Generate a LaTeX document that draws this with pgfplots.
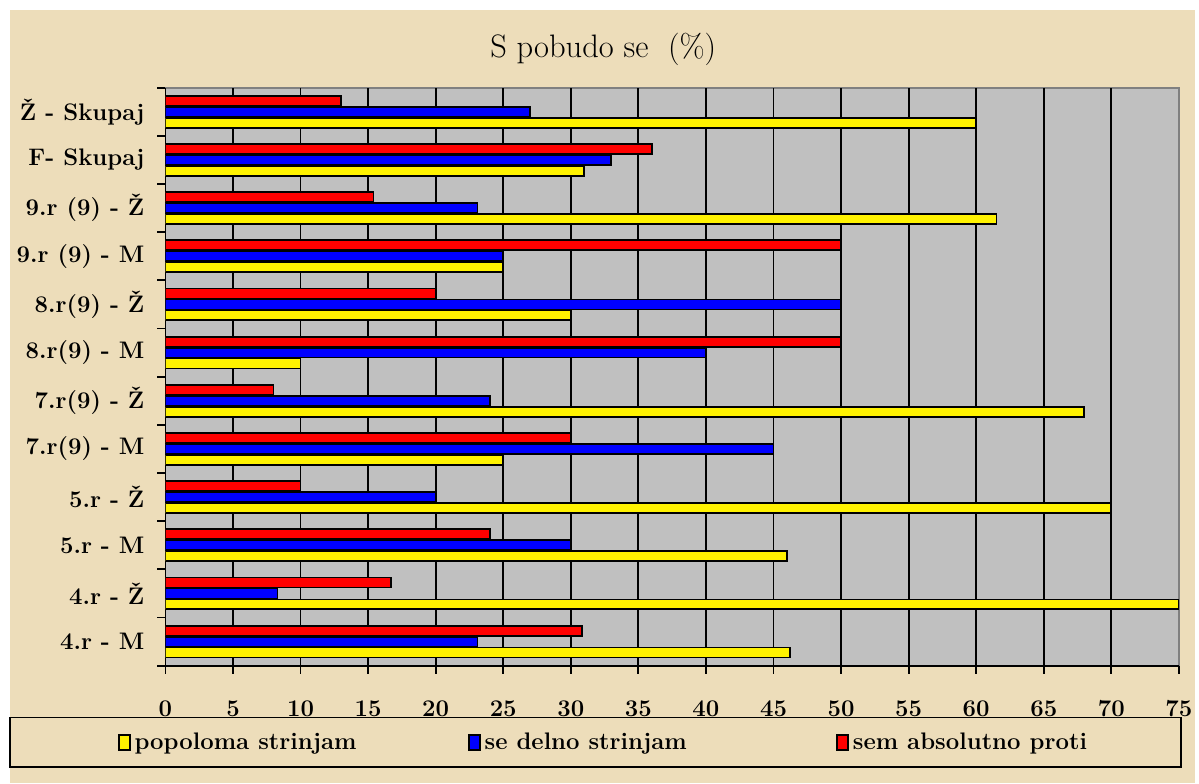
\documentclass[border=0pt]{standalone}
\usepackage{pgfplots}
\pgfplotsset{compat=1.18}
\definecolor{parch}{RGB}{237,221,186}
\definecolor{plotgray}{RGB}{192,192,192}
\definecolor{bordergray}{RGB}{128,128,128}
\pgfplotstableread{
y  yel   blu   red
0  46.2  23.1  30.8
1  75    8.3   16.7
2  46    30    24
3  70    20    10
4  25    45    30
5  68    24    8
6  10    40    50
7  30    50    20
8  25    25    50
9  61.5  23.1  15.4
10 31    33    36
11 60    27    13
}\datatable
\begin{document}
\begin{tikzpicture}[x=1pt,y=1pt]
\fill[white] (0,0) rectangle (599.5,393);
\fill[parch] (5,0) rectangle (599.5,388);
\begin{axis}[
  at={(83pt,59pt)}, anchor=south west,
  scale only axis, width=508.5pt, height=290pt,
  xbar, bar width=5pt,
  xmin=0, xmax=75, ymin=-0.5, ymax=11.5,
  xtick={0,5,...,70},
  extra x ticks={75},
  extra x tick style={grid=none},
  ytick={0,...,11},
  yticklabels={4.r - M,4.r - Ž,5.r - M,5.r - Ž,7.r(9) - M,7.r(9) - Ž,8.r(9) - M,8.r(9) - Ž,9.r (9) - M,9.r (9) - Ž,F- Skupaj,Ž - Skupaj},
  minor ytick={-0.5,0.5,...,11.5},
  major y tick style={draw=none},
  tick align=outside,
  major tick length=4pt, minor tick length=4pt,
  tick style={black, line width=0.9pt},
  axis x line*=bottom, axis y line*=left,
  axis line style={black, line width=0.9pt, -},
  axis background/.style={fill=plotgray, draw=bordergray, line width=0.9pt},
  xmajorgrids,
  major grid style={black, line width=0.9pt},
  /pgf/number format/assume math mode=true,
  xticklabel style={font=\bfseries\fontsize{12}{14}\selectfont, yshift=-10pt},
  yticklabel style={font=\bfseries\fontsize{12}{14}\selectfont, xshift=-3pt},
  title={S pobudo se\ \ (\%)},
  title style={at={(axis description cs:0.432,1)}, anchor=center, yshift=13pt, font=\fontsize{16.3}{18}\selectfont},
  legend columns=3,
  legend style={draw=none, fill=none, inner sep=0pt,
    at={(axis description cs:-0.0472,-0.1328)}, anchor=west,
    font=\bfseries\fontsize{12}{14}\selectfont,
    /tikz/column 2/.style={column sep=54pt},
    /tikz/column 4/.style={column sep=73pt}},
  legend image code/.code={\draw[#1, line width=0.8pt] (0pt,-3.8pt) rectangle (5.5pt,3.8pt);},
]
\addplot[fill=yellow, draw=black, line width=0.9pt, bar shift=-5.5pt] table[x=yel, y=y] {\datatable};
\addplot[fill=blue, draw=black, line width=0.9pt, bar shift=0pt] table[x=blu, y=y] {\datatable};
\addplot[fill=red, draw=black, line width=0.9pt, bar shift=5.5pt] table[x=red, y=y] {\datatable};
\legend{popoloma strinjam, se delno strinjam, sem absolutno proti}
\end{axis}
\draw[black, line width=0.9pt] (5,8) rectangle (592.5,33);
\end{tikzpicture}
\end{document}
